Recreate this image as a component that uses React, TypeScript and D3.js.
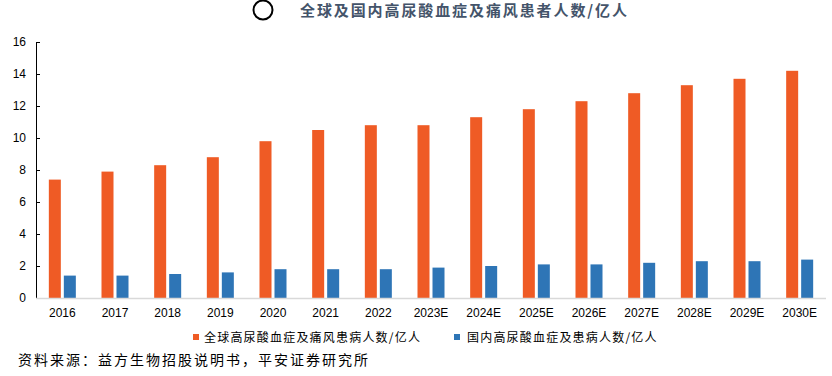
import React from "react";
import * as d3 from "d3";

const categories = ["2016","2017","2018","2019","2020","2021","2022","2023E","2024E","2025E","2026E","2027E","2028E","2029E","2030E"];
const globalValues = [7.4,7.9,8.3,8.8,9.8,10.5,10.8,10.8,11.3,11.8,12.3,12.8,13.3,13.7,14.2];
const chinaValues = [1.4,1.4,1.5,1.6,1.8,1.8,1.8,1.9,2.0,2.1,2.1,2.2,2.3,2.3,2.4];
const yTicks = [0,2,4,6,8,10,12,14,16];
const seriesNames = ["全球高尿酸血症及痛风患病人数/亿人","国内高尿酸血症及患病人数/亿人"];
const titleText = "全球及国内高尿酸血症及痛风患者人数/亿人";
const sourceText = "资料来源：益方生物招股说明书，平安证券研究所";

const W = 832, H = 376;
const left = 36, right = 826, top = 42, bottom = 298;
const ORANGE = "#EF5B25";
const BLUE = "#2E75B6";
const CJK = "'Noto Sans CJK SC', sans-serif";
const LAT = "'Liberation Sans', Arial, sans-serif";

export default function App() {
  const x = d3.scaleBand<string>().domain(categories).range([left, right]).paddingInner(0).paddingOuter(0);
  const y = d3.scaleLinear().domain([0, 16]).range([bottom, top]);
  const bw = x.bandwidth();
  const barW = 12;
  const gap = 3;
  const offset = (bw - (barW * 2 + gap)) / 2;

  return (
    <div style={{ position: "absolute", left: 0, top: 0, width: W, height: H, background: "#fff" }}>
      <svg width={W} height={H} style={{ display: "block" }}>
        <circle cx={263} cy={10} r={9.5} fill="none" stroke="#000" strokeWidth={2} />
        <text x={300} y={15.5} fontFamily={CJK} fontWeight="bold" fontSize={15} letterSpacing={1.9} fill="#44546A">{titleText}</text>

        {/* y axis */}
        <line x1={left + 0.5} x2={left + 0.5} y1={top} y2={bottom} stroke="#000" strokeWidth={1} />
        {yTicks.map(t => (
          <g key={t}>
            <line x1={left} x2={left + 4} y1={Math.round(y(t)) + 0.5} y2={Math.round(y(t)) + 0.5} stroke="#000" strokeWidth={1} />
            <text x={26} y={y(t)} dy="0.35em" textAnchor="end" fontFamily={LAT} fontSize={12} fill="#000">{t}</text>
          </g>
        ))}

        {/* bars */}
        {categories.map((c, i) => {
          const bx = (x(c) as number) + offset;
          return (
            <g key={c}>
              <rect x={bx} y={y(globalValues[i])} width={barW} height={bottom - y(globalValues[i])} fill={ORANGE} />
              <rect x={bx + barW + gap} y={y(chinaValues[i])} width={barW} height={bottom - y(chinaValues[i])} fill={BLUE} />
              <text x={(x(c) as number) + bw / 2} y={313} dy="0.35em" textAnchor="middle" fontFamily={LAT} fontSize={12} fill="#000">{c}</text>
            </g>
          );
        })}

        {/* x axis baseline */}
        <line x1={left} x2={right} y1={bottom + 0.5} y2={bottom + 0.5} stroke="#D9D9D9" strokeWidth={1.5} />

        {/* legend */}
        <rect x={193} y={334} width={6} height={6} fill={ORANGE} />
        <text x={204} y={338} dy="0.35em" fontFamily={CJK} fontSize={12} letterSpacing={1.2} fill="#000">{seriesNames[0]}</text>
        <rect x={454} y={334} width={6} height={6} fill={BLUE} />
        <text x={467} y={338} dy="0.35em" fontFamily={CJK} fontSize={12} letterSpacing={1.2} fill="#000">{seriesNames[1]}</text>

        {/* source */}
        <text x={18} y={360} dy="0.35em" fontFamily={CJK} fontSize={14} letterSpacing={2} fill="#000">{sourceText}</text>
      </svg>
    </div>
  );
}
